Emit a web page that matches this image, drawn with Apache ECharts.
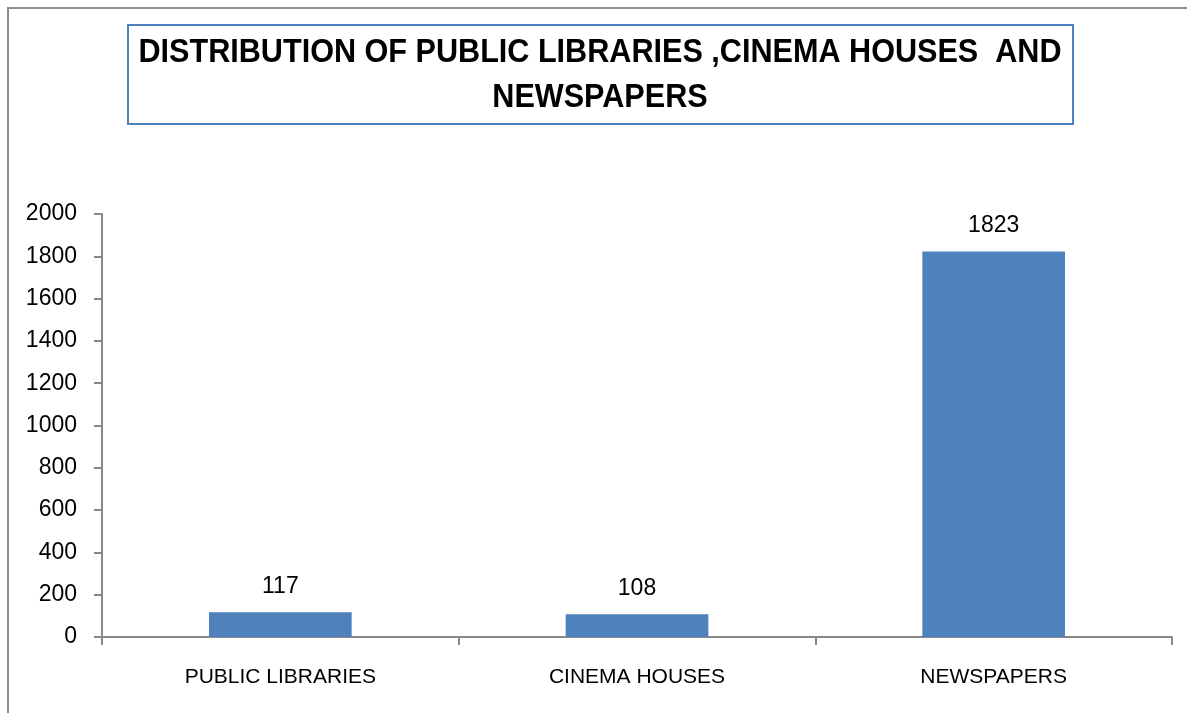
<!DOCTYPE html>
<html>
<head>
<meta charset="utf-8">
<script src="https://cdn.jsdelivr.net/npm/echarts@6/dist/echarts.min.js"></script>
<style>
  html, body { margin: 0; padding: 0; background: #fff; }
  #main { width: 1187px; height: 713px; }
</style>
</head>
<body>
<div id="main"></div>
<script>
  // chart data
  var categories = ['PUBLIC LIBRARIES', 'CINEMA HOUSES', 'NEWSPAPERS'];
  var counts = [117, 108, 1823];
  var yTicks = [0, 200, 400, 600, 800, 1000, 1200, 1400, 1600, 1800, 2000];
  var titleText = 'DISTRIBUTION OF PUBLIC LIBRARIES ,CINEMA HOUSES  AND\nNEWSPAPERS';

  var font = '"Liberation Sans", Arial, sans-serif';
  var myChart = echarts.init(document.getElementById('main'));

  myChart.setOption({
    animation: false,
    graphic: [{
      // outer chart border
      type: 'rect',
      shape: {x: 8, y: 8, width: 1250, height: 800},
      style: {fill: 'none', stroke: '#8c8c8c', lineWidth: 2},
      silent: true
    }, {
      // title box
      type: 'rect',
      shape: {x: 128, y: 25, width: 945, height: 99},
      style: {fill: '#fff', stroke: '#4f81bd', lineWidth: 2},
      silent: true
    }, {
      type: 'text',
      x: 600,
      y: 75,
      scaleX: 0.9, // narrow bold face
      style: {
        text: titleText,
        font: 'bold 34px ' + font,
        lineHeight: 45,
        align: 'center',
        verticalAlign: 'middle',
        fill: '#000'
      },
      silent: true
    }],
    grid: {
      left: 102,
      right: 15,
      top: 214,
      bottom: 76
    },
    xAxis: {
      type: 'category',
      data: categories,
      axisLine: {lineStyle: {color: '#888', width: 2}},
      axisTick: {show: true, length: 8, lineStyle: {color: '#888', width: 2}},
      axisLabel: {
        margin: 30,
        fontFamily: font,
        fontSize: 21,
        color: '#000'
      }
    },
    yAxis: {
      type: 'value',
      min: yTicks[0],
      max: yTicks[yTicks.length - 1],
      interval: yTicks[1] - yTicks[0],
      splitLine: {show: false},
      axisLine: {show: true, lineStyle: {color: '#888', width: 2}},
      axisTick: {show: true, length: 8, lineStyle: {color: '#888', width: 2}},
      axisLabel: {
        margin: 25,
        fontFamily: font,
        fontSize: 23,
        color: '#000',
        formatter: function (v) { return String(v); }
      }
    },
    series: [{
      type: 'bar',
      data: counts,
      barWidth: '40%',
      itemStyle: {color: '#4f81bd'},
      label: {
        show: true,
        position: 'top',
        distance: 14,
        fontFamily: font,
        fontSize: 23,
        color: '#000'
      }
    }]
  });
</script>
</body>
</html>
